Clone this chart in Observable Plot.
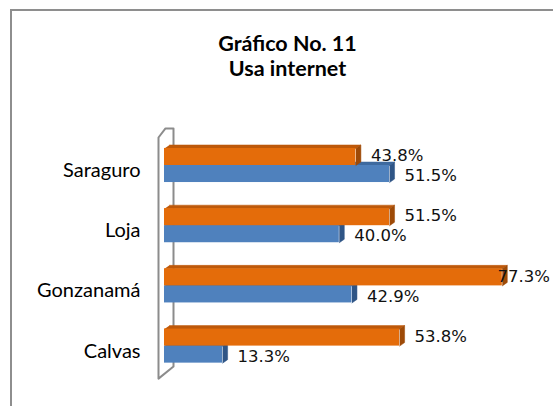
<!DOCTYPE html>
<html>
<head>
<meta charset="utf-8">
<script src="https://cdn.jsdelivr.net/npm/d3@7"></script>
<script src="https://cdn.jsdelivr.net/npm/@observablehq/plot@0.6"></script>
<style>
  html, body { margin: 0; padding: 0; background: #fff; }
  #wrap { position: relative; width: 553px; height: 406px; overflow: hidden; background: #fff; }
  #border { position: absolute; left: 10px; top: 9px; width: 700px; height: 600px; border: 2px solid #8e8e8e; box-sizing: border-box; }
  #title { position: absolute; left: 0; top: 31px; width: 575px; text-align: center; font-family: Lato, "Open Sans", sans-serif; font-weight: bold; font-size: 21.5px; line-height: 25px; color: #000; }
  #chart { position: absolute; left: 0; top: 0; }
</style>
</head>
<body>
<div id="wrap">
  <div id="border"></div>
  <div id="title">Gráfico No. 11<br>Usa internet</div>
  <div id="chart"></div>
</div>
<script>
// ---- data ----
const categories = ["Saraguro", "Loja", "Gonzanamá", "Calvas"];
const seriesBlue = [51.5, 40.0, 42.9, 13.3];
const seriesOrange = [43.8, 51.5, 77.3, 53.8];

// ---- styling / geometry constants ----
const W = 553, H = 406;
const x0px = 164, pxPerPct = 4.37;       // x scale
const y0px = 165, pxPerCat = 60.2;       // y scale (category index)
const barH = 0.283;                      // bar thickness in category units
const ddx = 5 / pxPerPct;                // 3D depth (x, in %)
const ddy = -3.5 / pxPerCat;             // 3D depth (y, in category units)
const colors = {
  blue:   {front: "#4F81BD", top: "#3E6A9F", side: "#2F5586"},
  orange: {front: "#E46C0A", top: "#BE590A", side: "#9E4A07"}
};

// bars table (built from the arrays)
const bars = [];
categories.forEach((c, i) => {
  bars.push({id: "b" + i, cat: c, series: "blue", value: seriesBlue[i], y1: i, y2: i + barH});
  bars.push({id: "o" + i, cat: c, series: "orange", value: seriesOrange[i], y1: i - barH, y2: i});
});
const tops = [], sides = [];
for (const b of bars) {
  tops.push(
    {id: b.id, s: b.series, x: 0, y: b.y1},
    {id: b.id, s: b.series, x: b.value, y: b.y1},
    {id: b.id, s: b.series, x: b.value + ddx, y: b.y1 + ddy},
    {id: b.id, s: b.series, x: ddx, y: b.y1 + ddy}
  );
  sides.push(
    {id: b.id, s: b.series, x: b.value, y: b.y1},
    {id: b.id, s: b.series, x: b.value + ddx, y: b.y1 + ddy},
    {id: b.id, s: b.series, x: b.value + ddx, y: b.y2 + ddy},
    {id: b.id, s: b.series, x: b.value, y: b.y2}
  );
}

// 3D back wall of the category axis
const wallFront = -6 / pxPerPct, wallBack = 9 / pxPerPct;
const wallTop = -0.465, wallBottom = 3.54, wallDepth = -0.2;
const wall = [
  {x: wallFront, y: wallBottom},
  {x: wallFront, y: wallTop},
  {x: wallFront + 7 / pxPerPct, y: wallTop - 0.15},
  {x: wallBack, y: wallTop - 0.15},
  {x: wallBack, y: wallBottom + wallDepth},
  {x: wallFront, y: wallBottom}
];

// label limit so that labels stay inside the chart
const labelW = 56, labelGap = 15;
const labelCap = (W - labelW - labelGap - x0px) / pxPerPct;

const byS = s => d => d.s === s;
const mk = (s) => [
  Plot.line(tops.filter(byS(s)), {x: "x", y: "y", z: "id", fill: colors[s].top, stroke: colors[s].top, strokeWidth: 0.5, curve: "linear"}),
  Plot.line(sides.filter(byS(s)), {x: "x", y: "y", z: "id", fill: colors[s].side, stroke: colors[s].side, strokeWidth: 0.5, curve: "linear"}),
  Plot.rect(bars.filter(d => d.series === s), {x1: 0, x2: "value", y1: "y1", y2: "y2", fill: colors[s].front})
];
const labels = (s, dy) => Plot.text(bars.filter(d => d.series === s), {
  x: d => Math.min(d.value, labelCap),
  y: d => (d.y1 + d.y2) / 2,
  text: d => d.value.toFixed(1) + "%",
  dx: labelGap,
  dy: dy,
  textAnchor: "start",
  fontFamily: "DejaVu Sans",
  fontSize: 16.5,
  fill: "#111"
});

const chart = Plot.plot({
  width: W,
  height: H,
  marginLeft: x0px, marginRight: 0, marginTop: 0, marginBottom: 0,
  style: {fontFamily: "Lato, 'Open Sans', sans-serif", fontSize: "20px", color: "#000", background: "transparent"},
  x: {domain: [0, 100], range: [x0px, x0px + 100 * pxPerPct], axis: null},
  y: {domain: [-0.75, 3.75], range: [y0px - 0.75 * pxPerCat, y0px + 3.75 * pxPerCat], axis: null},
  marks: [
    Plot.line(wall, {x: "x", y: "y", stroke: "#8c8c8c", strokeWidth: 2, curve: "linear"}),
    ...mk("blue"),
    ...mk("orange"),
    Plot.axisY({ticks: [0, 1, 2, 3], tickFormat: i => categories[i], tickSize: 0, tickPadding: 24, dy: 5, fontSize: 20, fill: "#000"}),
    labels("orange", -1),
    labels("blue", 2)
  ]
});
document.getElementById("chart").appendChild(chart);
</script>
</body>
</html>
